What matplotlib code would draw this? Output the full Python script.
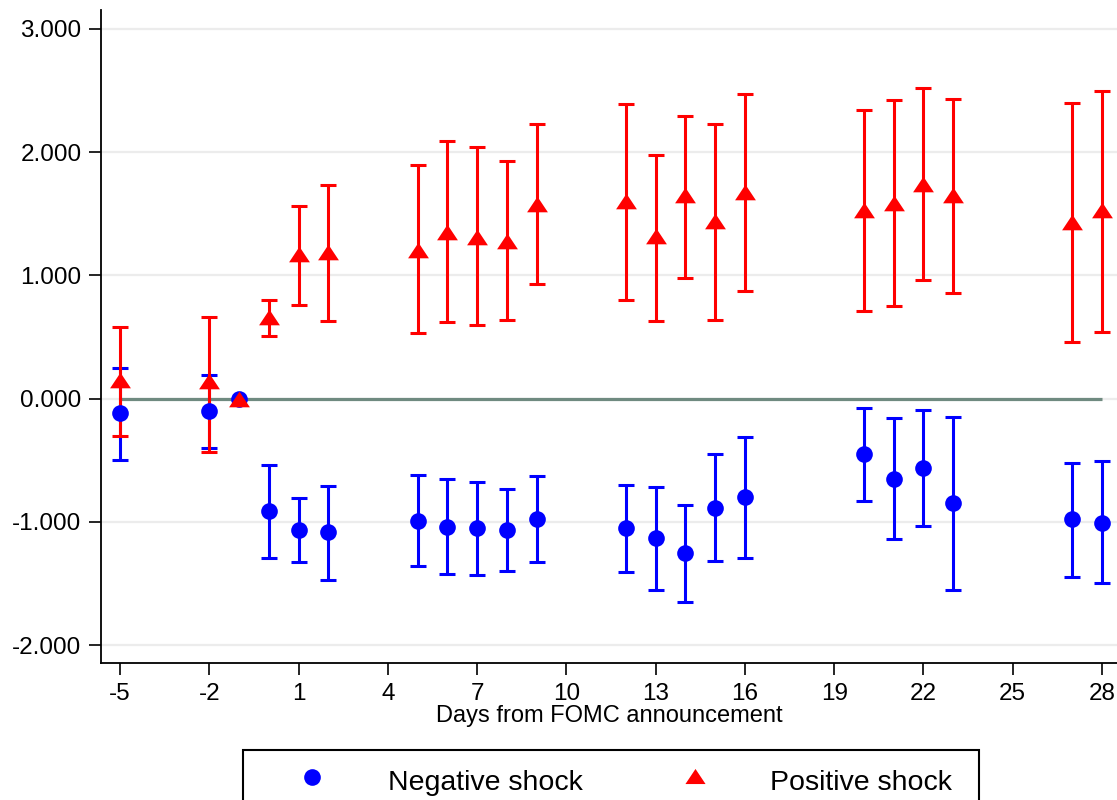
import numpy as np
import matplotlib
matplotlib.use("Agg")
import matplotlib.pyplot as plt
from matplotlib.ticker import FormatStrFormatter
from matplotlib.patches import Rectangle
from matplotlib.lines import Line2D

plt.rcParams['font.family'] = ['Liberation Sans', 'DejaVu Sans']

# ---- data ----
days = [-5, -2, -1, 0, 1, 2, 5, 6, 7, 8, 9, 12, 13, 14, 15, 16, 20, 21, 22, 23, 27, 28]

neg_est = [-0.12, -0.10, 0.00, -0.91, -1.07, -1.08, -0.99, -1.04, -1.05, -1.07, -0.98,
           -1.05, -1.13, -1.25, -0.89, -0.80, -0.45, -0.65, -0.56, -0.85, -0.98, -1.01]
neg_lo = [-0.50, -0.40, 0.00, -1.29, -1.33, -1.47, -1.36, -1.42, -1.43, -1.40, -1.33,
          -1.41, -1.55, -1.65, -1.32, -1.29, -0.83, -1.14, -1.03, -1.55, -1.45, -1.50]
neg_hi = [0.25, 0.19, 0.00, -0.54, -0.81, -0.71, -0.62, -0.65, -0.68, -0.73, -0.63,
          -0.70, -0.72, -0.86, -0.45, -0.31, -0.08, -0.16, -0.09, -0.15, -0.52, -0.51]

pos_est = [0.15, 0.14, 0.00, 0.66, 1.17, 1.19, 1.21, 1.35, 1.31, 1.28, 1.58,
           1.60, 1.32, 1.65, 1.44, 1.68, 1.53, 1.59, 1.74, 1.65, 1.43, 1.53]
pos_lo = [-0.30, -0.43, 0.00, 0.51, 0.76, 0.63, 0.53, 0.62, 0.60, 0.64, 0.93,
          0.80, 0.63, 0.98, 0.64, 0.87, 0.71, 0.75, 0.96, 0.86, 0.46, 0.54]
pos_hi = [0.58, 0.66, 0.00, 0.80, 1.56, 1.73, 1.90, 2.09, 2.04, 1.93, 2.23,
          2.39, 1.98, 2.29, 2.23, 2.47, 2.34, 2.42, 2.52, 2.43, 2.40, 2.50]

x_ticks = [-5, -2, 1, 4, 7, 10, 13, 16, 19, 22, 25, 28]
x_tick_labels = ["-5", "-2", "1", "4", "7", "10", "13", "16", "19", "22", "25", "28"]
y_ticks = [-2, -1, 0, 1, 2, 3]

series_labels = ["Negative shock", "Positive shock"]

# ---- figure ----
W, H = 1117, 800
fig = plt.figure(figsize=(W / 100, H / 100), dpi=100)
ax = fig.add_axes([101 / W, 1 - 663 / H, 1 - 101 / W, (663 - 10) / H])

ax.set_xlim(-5.638, 28.504)
ax.set_ylim(-2.146, 3.154)

tri = [(-1, -0.75), (1, -0.75), (0, 0.75)]


def draw(x, est, lo, hi, color, marker, ms):
    x = np.asarray(x, float)
    est = np.asarray(est, float)
    lo = np.asarray(lo, float)
    hi = np.asarray(hi, float)
    m = hi > lo
    ax.errorbar(x[m], est[m], yerr=[est[m] - lo[m], hi[m] - est[m]], fmt='none',
                ecolor=color, elinewidth=2.2, capsize=6, capthick=2.2, zorder=3)
    ax.plot(x, est, linestyle='none', marker=marker, markersize=ms,
            color=color, markeredgewidth=0, zorder=4)


# gridlines
ax.set_yticks(y_ticks)
ax.yaxis.grid(True, color='#ececec', linewidth=1.6, zorder=0)
ax.set_axisbelow(True)

# zero reference line
ax.plot([days[0], days[-1]], [0, 0], color='#6f8a80', linewidth=2.3, zorder=2,
        solid_capstyle='butt')

draw(days, neg_est, neg_lo, neg_hi, '#0000ff', 'o', 12)
draw(days, pos_est, pos_lo, pos_hi, '#ff0000', tri, 15)

ax.set_xticks(x_ticks)
ax.set_xticklabels(x_tick_labels)
ax.yaxis.set_major_formatter(FormatStrFormatter('%.3f'))

for s in ['top', 'right']:
    ax.spines[s].set_visible(False)
for s in ['left', 'bottom']:
    ax.spines[s].set_linewidth(1.3)
    ax.spines[s].set_color('black')

ax.tick_params(axis='both', length=8.5, width=1.2, color='black', labelsize=17.5)
ax.tick_params(axis='y', pad=5.5)
ax.tick_params(axis='x', pad=6)
ax.set_xlabel("Days from FOMC announcement", fontsize=17, labelpad=0)

# ---- legend (drawn manually) ----
fig.add_artist(Rectangle((243 / W, -0.1), (979 - 243) / W, 0.1 + (1 - 750 / H),
                         transform=fig.transFigure, fill=False, edgecolor='black',
                         linewidth=1.5, clip_on=False))
fig.add_artist(Line2D([312 / W], [1 - 776.7 / H], transform=fig.transFigure,
                      linestyle='none', marker='o', markersize=12, color='#0000ff',
                      markeredgewidth=0))
fig.add_artist(Line2D([695 / W], [1 - 775.5 / H], transform=fig.transFigure,
                      linestyle='none', marker=tri, markersize=14.5, color='#ff0000',
                      markeredgewidth=0))
fig.text(388 / W, 1 - 790 / H, series_labels[0], fontsize=20.5, va='baseline', ha='left')
fig.text(770 / W, 1 - 790 / H, series_labels[1], fontsize=20.5, va='baseline', ha='left')

fig.savefig("out.png", dpi=100)
